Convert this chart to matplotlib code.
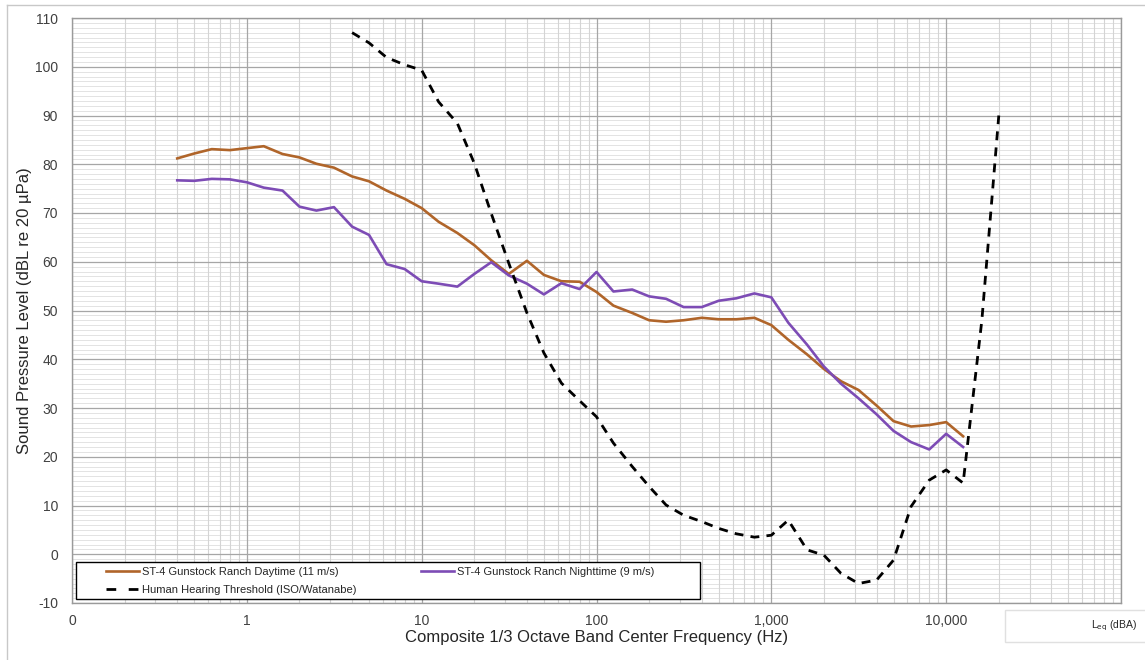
import matplotlib
matplotlib.use("Agg")
import matplotlib.pyplot as plt
from matplotlib.ticker import (FixedLocator, FixedFormatter, MultipleLocator,
                               NullFormatter, LogLocator)
from matplotlib.patches import Rectangle
from matplotlib.lines import Line2D

plt.rcParams['font.family'] = ['Liberation Sans', 'DejaVu Sans']
plt.rcParams['axes.unicode_minus'] = False

# 1/3 octave band centre frequencies (Hz) for the measured spectra
bands = [0.4, 0.5, 0.63, 0.8, 1, 1.25, 1.6, 2, 2.5, 3.15, 4, 5, 6.3, 8, 10,
         12.5, 16, 20, 25, 31.5, 40, 50, 63, 80, 100, 125, 160, 200, 250, 315,
         400, 500, 630, 800, 1000, 1250, 1600, 2000, 2500, 3150, 4000, 5000,
         6300, 8000, 10000, 12500]

daytime = [81.2, 82.2, 83.1, 82.9, 83.3, 83.7, 82.1, 81.4, 80.1, 79.3, 77.5,
           76.5, 74.6, 72.9, 71.0, 68.2, 65.9, 63.4, 60.3, 57.5, 60.2, 57.3,
           56.0, 55.9, 53.8, 51.0, 49.5, 48.0, 47.7, 48.0, 48.5, 48.2, 48.2,
           48.5, 47.0, 44.0, 41.0, 38.0, 35.5, 33.7, 30.5, 27.3, 26.2, 26.5,
           27.1, 24.2]

nighttime = [76.7, 76.6, 77.0, 76.9, 76.3, 75.2, 74.6, 71.3, 70.5, 71.2, 67.2,
             65.5, 59.5, 58.5, 56.0, 55.5, 54.9, 57.5, 59.9, 57.2, 55.5, 53.3,
             55.6, 54.4, 57.9, 53.9, 54.3, 52.9, 52.4, 50.7, 50.7, 52.0, 52.5,
             53.5, 52.7, 47.5, 43.0, 38.5, 35.0, 32.0, 28.7, 25.3, 23.0, 21.5,
             24.7, 22.0]

# Hearing threshold (ISO / Watanabe)
thr_freq = [4, 5, 6.3, 8, 10, 12.5, 16, 20, 25, 31.5, 40, 50, 63, 80, 100, 125,
            160, 200, 250, 315, 400, 500, 630, 800, 1000, 1250, 1600, 2000,
            2500, 3150, 4000, 5000, 6300, 8000, 10000, 12500, 16000, 20000]
thr_level = [107.0, 104.9, 101.9, 100.4, 99.3, 92.8, 88.4, 80.2, 69.9, 59.7,
             49.5, 41.3, 35.1, 31.5, 28.2, 22.8, 18.0, 13.9, 10.1, 8.0, 6.7,
             5.3, 4.2, 3.5, 3.9, 7.0, 0.9, -0.2, -3.9, -6.0, -5.3, -1.2, 9.8,
             15.2, 17.3, 14.6, 48.0, 90.0]

xtick_vals = [0.1, 1, 10, 100, 1000, 10000]
xtick_labels = ['0', '1', '10', '100', '1,000', '10,000']
ytick_vals = list(range(-10, 111, 10))

W, H = 1145, 660
fig = plt.figure(figsize=(W / 100, H / 100), dpi=100)
ax = fig.add_axes([72 / W, 1 - 603 / H, (1121 - 72) / W, (603 - 18) / H])

ax.set_xscale('log')
ax.set_xlim(0.1, 100000)
ax.set_ylim(-10, 110)

ax.xaxis.set_major_locator(FixedLocator(xtick_vals))
ax.xaxis.set_major_formatter(FixedFormatter(xtick_labels))
ax.xaxis.set_minor_locator(LogLocator(base=10, subs=range(2, 10), numticks=20))
ax.xaxis.set_minor_formatter(NullFormatter())
ax.yaxis.set_major_locator(FixedLocator(ytick_vals))
ax.yaxis.set_minor_locator(MultipleLocator(1))

# grid: fine 1 dB lines underneath, frequency lines over them,
# 10 dB lines on top of both
ax.set_axisbelow(True)
ax.yaxis.set_zorder(0.4)
ax.xaxis.set_zorder(0.5)
ax.grid(axis='y', which='minor', color='#e3e3e3', lw=0.7)
ax.grid(axis='x', which='minor', color='#d4d4d4', lw=0.8)
ax.grid(axis='x', which='major', color='#a6a6a6', lw=0.9)
for yv in ytick_vals:
    ax.axhline(yv, color='#a6a6a6', lw=0.9, zorder=0.6)
# 100 kHz boundary line
ax.axvline(100000, color='#a6a6a6', lw=0.9, zorder=0.6)

ax.tick_params(which='both', length=0)
ax.tick_params(axis='both', labelsize=10, colors='#404040')
ax.tick_params(axis='x', pad=8)
ax.tick_params(axis='y', pad=10)
for s in ax.spines.values():
    s.set_color('#9a9a9a')
    s.set_linewidth(1.0)

l1, = ax.plot(bands, daytime, color='#B0652A', lw=1.9, zorder=3,
              label='ST-4 Gunstock Ranch Daytime (11 m/s)')
l2, = ax.plot(bands, nighttime, color='#7D4CB5', lw=1.9, zorder=3,
              label='ST-4 Gunstock Ranch Nighttime (9 m/s)')
l3, = ax.plot(thr_freq, thr_level, color='black', lw=2.0, dashes=(3.2, 2.6),
              zorder=3, label='Human Hearing Threshold (ISO/Watanabe)')
# legend key for the threshold: two dashes across the key width
l3_key = Line2D([], [], color='black', lw=2.0, dashes=(3.5, 4.5),
                label=l3.get_label())

ax.set_xlabel('Composite 1/3 Octave Band Center Frequency (Hz)', fontsize=12,
              color='#262626')
ax.xaxis.set_label_coords(0.5, -0.047)
ax.set_ylabel('Sound Pressure Level (dBL re 20 µPa)', fontsize=12,
              color='#262626', va='center')
ax.yaxis.set_label_coords(-0.045, 0.5)

# legend box
x0, x1, y0, y1 = 76, 700, 562, 599
ax.add_patch(Rectangle(((x0 - 72) / 1049, (603 - y1) / 585),
                       (x1 - x0) / 1049, (y1 - y0) / 585,
                       transform=ax.transAxes, facecolor='white',
                       edgecolor='black', lw=1.0, zorder=4))
leg = ax.legend(handles=[l1, l3_key, l2], ncol=2, loc='upper left',
                bbox_to_anchor=(106 / W, 1 - 567 / H),
                bbox_transform=fig.transFigure,
                fontsize=8, frameon=False, handlelength=3.0,
                handletextpad=0.25, borderpad=0, labelspacing=0.75,
                columnspacing=5.8, borderaxespad=0)
leg.set_zorder(5)
for t in leg.get_texts():
    t.set_color('#262626')

# outer chart border
fig.add_artist(Line2D([7 / W, 7 / W], [0, 1 - 5 / H], color='#c8c8c8', lw=1.0))
fig.add_artist(Line2D([7 / W, 1], [1 - 5 / H, 1 - 5 / H], color='#c8c8c8', lw=1.0))

# Leq box
fig.add_artist(Rectangle((1005 / W, 1 - 642 / H), 150 / W, 32 / H,
                         facecolor='white', edgecolor='#e0e0e0', lw=1.0))
fig.text(1137 / W, 1 - 626 / H, 'L$_{\\mathrm{eq}}$ (dBA)', fontsize=7.5,
         ha='right', va='center', color='#262626')

fig.savefig('out.png', dpi=100)
